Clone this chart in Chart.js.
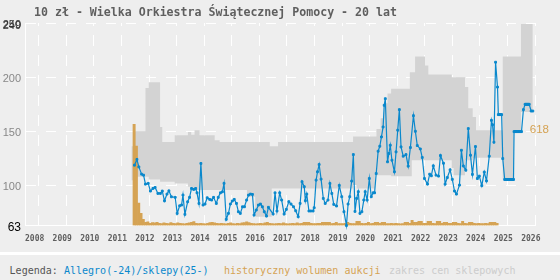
<!DOCTYPE html>
<html>
<head>
<meta charset="utf-8">
<script src="https://cdn.jsdelivr.net/npm/chart.js@4.4.1/dist/chart.umd.min.js"></script>
<style>
  body { margin: 0; background: #eeeeee; }
  #wrap { position: relative; width: 560px; height: 280px; overflow: hidden; }
  #chart { position: absolute; left: 0; top: 0; }
  #title { position: absolute; left: 34px; top: 5px; font: bold 11.6px 'DejaVu Sans Mono', monospace; line-height: 14px; color: #5f5f5f; white-space: pre; }
  #sep { position: absolute; left: 0; top: 252px; width: 560px; height: 3px; background: #fff; }
  #legend { position: absolute; left: 0; top: 265px; width: 560px; height: 12px; font: 10px 'DejaVu Sans Mono', monospace; line-height: 12px; white-space: pre; }
  #legend span { position: absolute; top: 0; }
</style>
</head>
<body>
<div id="wrap">
  <canvas id="chart" width="560" height="251"></canvas>
  <div id="title"></div>
  <div id="sep"></div>
  <div id="legend">
    <span style="left:9.6px;color:#555">Legenda:</span>
    <span id="lg-price" style="left:64px"></span>
    <span id="lg-volume" style="left:224px"></span>
    <span id="lg-band" style="left:389px"></span>
  </div>
</div>
<script>
const TITLE = '10 zł - Wielka Orkiestra Świątecznej Pomocy - 20 lat';
const PRICE_LABEL = 'Allegro(-24)/sklepy(25-)';
const VOLUME_LABEL = 'historyczny wolumen aukcji';
const BAND_LABEL = 'zakres cen sklepowych';

const BLUE = '#0a88cc';
const ORANGE = '#d5a354';
const GRAY = '#d3d3d3';

const YEAR_TICKS = [2008, 2009, 2010, 2011, 2012, 2013, 2014, 2015, 2016, 2017,
  2018, 2019, 2020, 2021, 2022, 2023, 2024, 2025, 2026];
const PRICE_TICKS = [63, 100, 150, 200, 249, 250];

// cena (rok dziesiętny, zł)
const PRICE_T = [
  2011.97, 2012.06, 2012.13, 2012.23, 2012.30, 2012.37, 2012.47, 2012.55, 2012.64, 2012.72, 2012.82, 2012.91, 2012.98,
  2013.06, 2013.15, 2013.22, 2013.31, 2013.45, 2013.52, 2013.61, 2013.68, 2013.73, 2013.80, 2013.90, 2013.97,
  2014.04, 2014.12, 2014.19, 2014.24, 2014.31, 2014.38, 2014.46, 2014.53, 2014.61, 2014.70, 2014.77, 2014.84, 2014.94,
  2015.01, 2015.09, 2015.16, 2015.22, 2015.30, 2015.38, 2015.45, 2015.52, 2015.59, 2015.67, 2015.74, 2015.81, 2015.89, 2015.96,
  2016.04, 2016.11, 2016.18, 2016.25, 2016.31, 2016.39, 2016.47, 2016.54, 2016.61, 2016.68, 2016.76, 2016.83,
  2017.00, 2017.07, 2017.14, 2017.24, 2017.31, 2017.40, 2017.48, 2017.57, 2017.65, 2017.74, 2017.82, 2017.91, 2017.98,
  2018.05, 2018.13, 2018.17, 2018.22, 2018.30, 2018.37, 2018.45, 2018.49, 2018.56, 2018.61, 2018.67, 2018.74, 2018.82, 2018.89, 2018.99,
  2019.06, 2019.13, 2019.20, 2019.30, 2019.40, 2019.49, 2019.57, 2019.66, 2019.72, 2019.78, 2019.85, 2019.91, 2019.97,
  2020.03, 2020.09, 2020.15, 2020.22, 2020.29, 2020.34, 2020.41, 2020.49, 2020.56, 2020.63, 2020.68, 2020.74, 2020.81, 2020.87, 2020.93, 2020.99,
  2021.03, 2021.07, 2021.15, 2021.20, 2021.25, 2021.31, 2021.40, 2021.46, 2021.52, 2021.58, 2021.64, 2021.72, 2021.82, 2021.90, 2021.98,
  2022.09, 2022.16, 2022.23, 2022.34, 2022.41, 2022.49, 2022.60, 2022.68, 2022.74, 2022.81, 2022.91,
  2023.00, 2023.07, 2023.18, 2023.24, 2023.32, 2023.42, 2023.50, 2023.58, 2023.65, 2023.76, 2023.83, 2023.90, 2023.99,
  2024.08, 2024.16, 2024.23, 2024.34, 2024.41, 2024.48, 2024.57, 2024.66, 2024.74, 2024.84, 2024.92, 2024.96,
  2025.01, 2025.07, 2025.14, 2025.17, 2025.20, 2025.23, 2025.26, 2025.29, 2025.33,
  2025.40, 2025.43, 2025.46, 2025.49, 2025.52, 2025.55, 2025.58, 2025.61, 2025.64, 2025.67, 2025.70, 2025.72,
  2025.74, 2025.77, 2025.80, 2025.83, 2025.86, 2025.89, 2025.92, 2025.95, 2025.98, 2026.01,
  2026.08, 2026.14, 2026.17, 2026.20, 2026.23, 2026.26, 2026.29, 2026.36, 2026.42
];
const PRICE_V = [
  118.7, 124.0, 117.1, 110.4, 109.5, 101.2, 101.9, 94.8, 97.2, 98.2, 92.6, 92.6, 94.8,
  85.8, 92.0, 95.0, 89.5, 89.0, 74.2, 81.2, 81.9, 91.1, 73.3, 84.9, 89.0,
  97.2, 96.3, 97.2, 93.2, 83.4, 120.3, 81.9, 82.8, 88.6, 87.1, 86.5, 89.0, 83.4,
  89.0, 93.2, 94.1, 101.9, 68.7, 74.2, 82.8, 85.6, 87.1, 83.4, 75.7, 74.2, 80.3, 80.3,
  86.5, 91.1, 92.0, 91.7, 72.7, 77.3, 81.9, 82.8, 80.3, 75.7, 71.7, 79.8,
  73.6, 93.2, 76.4, 93.2, 86.5, 73.6, 77.9, 85.0, 82.8, 80.3, 76.6, 71.1, 83.4,
  103.4, 98.8, 85.9, 92.0, 76.4, 76.4, 76.4, 79.4, 104.9, 112.6, 119.3, 105.8, 88.0, 83.4, 86.5,
  101.8, 92.6, 82.5, 81.0, 100.0, 89.6, 75.7, 63.0, 82.8, 89.6, 104.0, 128.5, 76.0,
  88.0, 94.2, 74.2, 75.7, 86.5, 94.2, 86.5, 106.4, 89.6, 93.2, 93.2, 111.0, 131.6, 136.2, 144.8, 154.0,
  174.0, 180.1, 121.8, 129.5, 137.1, 123.3, 112.6, 131.0, 151.0, 170.0, 135.6, 127.0, 128.5, 117.8, 135.0,
  164.4, 150.0, 136.8, 133.7, 125.8, 106.4, 101.2, 110.4, 108.9, 118.1, 109.5,
  108.6, 127.6, 120.5, 101.2, 107.3, 114.4, 105.6, 94.8, 92.0, 100.3, 132.5, 118.0, 114.1,
  152.5, 127.9, 110.2, 135.9, 106.4, 108.6, 99.8, 112.3, 104.2, 127.0, 160.1, 156.0,
  139.9, 213.8, 190.8, 165.4, 165.4, 165.4, 165.4, 165.4, 124.8,
  105.5, 105.5, 105.5, 105.5, 105.5, 105.5, 105.5, 105.5, 105.5, 105.5, 105.5, 105.5,
  149.7, 149.7, 149.7, 149.7, 149.7, 149.7, 149.7, 149.7, 149.7, 149.7,
  170.0, 174.9, 174.9, 174.9, 174.9, 174.9, 174.9, 168.7, 168.7
];

// zakres cen sklepowych: od roku BAND_T[i] do następnego
const BAND_T = [2011.86, 2011.97, 2012.37, 2012.49, 2012.90, 2012.98, 2013.43, 2013.91, 2014.03, 2014.15,
  2014.33, 2014.88, 2015.06, 2016.05, 2016.35, 2016.88, 2016.95, 2017.18, 2019.90, 2020.03,
  2020.69, 2020.75, 2020.90, 2021.02, 2021.15, 2021.28, 2021.96, 2022.03, 2022.15, 2022.51,
  2022.63, 2023.48, 2023.55, 2023.96, 2024.08, 2024.24, 2024.36, 2025.33, 2025.72, 2025.99, 2026.42];
const BAND_HI = [136.2, 150.0, 190.0, 195.4, 154.0, 140.2, 146.3, 149.4, 146.9, 150.9,
  146.3, 141.7, 140.2, 140.2, 140.2, 136.2, 136.2, 140.2, 145.3, 145.3,
  145.3, 152.0, 162.0, 176.0, 185.0, 189.3, 204.6, 204.6, 219.0, 210.8,
  202.5, 200.0, 200.0, 190.8, 171.2, 163.2, 150.9, 219.0, 219.0, 249.0, 249.0];
const BAND_LO = [104.9, 108.0, 108.0, 105.5, 103.3, 103.3, 101.9, 98.7, 95.7, 95.7,
  95.7, 95.7, 95.7, 89.5, 71.0, 71.0, 97.2, 97.2, 100.3, 97.2,
  109.5, 109.5, 109.5, 109.5, 109.5, 108.5, 108.5, 123.3, 123.3, 123.3,
  123.3, 116.0, 109.5, 123.3, 123.3, 125.0, 125.5, 105.5, 149.5, 167.8, 167.8];

// wolumen aukcji, miesięcznie od grudnia 2011
const VOLUME_FROM = [2011, 12];
const VOLUME = [
  618, 485, 137, 75, 38, 20, 22, 14, 18, 16, 20, 14, 12,
  16, 14, 12, 18, 14, 12, 16, 14, 12, 10, 14, 16,
  20, 24, 14, 12, 14, 12, 10, 14, 18, 20, 16, 14,
  12, 14, 12, 10, 14, 16, 12, 10, 14, 12, 16, 18,
  22, 18, 14, 12, 10, 12, 14, 12, 16, 20, 14, 12,
  10, 12, 14, 12, 16, 12, 10, 12, 14, 12, 16, 12,
  14, 20, 20, 20, 14, 12, 12, 14, 14, 20, 20, 20,
  20, 12, 14, 20, 12, 12, 12, 14, 20, 14, 12, 12,
  25, 25, 14, 12, 14, 20, 12, 14, 20, 20, 14, 20,
  20, 12, 12, 14, 12, 14, 12, 10, 12, 20, 20, 14,
  31, 20, 20, 25, 25, 14, 14, 25, 25, 14, 12, 25,
  25, 14, 20, 20, 14, 14, 20, 20, 14, 12, 25, 14,
  12, 20, 20, 14, 12, 14, 12, 12, 14, 12, 20, 20,
  20, 14
];

document.getElementById('title').textContent = TITLE;
const lgPrice = document.getElementById('lg-price');
lgPrice.textContent = PRICE_LABEL;
lgPrice.style.color = BLUE;
const lgVolume = document.getElementById('lg-volume');
lgVolume.textContent = VOLUME_LABEL;
lgVolume.style.color = ORANGE;
const lgBand = document.getElementById('lg-band');
lgBand.textContent = BAND_LABEL;
lgBand.style.color = '#cccccc';

const toPoints = (xs, ys) => xs.map((x, i) => ({ x: x, y: ys[i] }));
const monthToYear = (i) => {
  const m = VOLUME_FROM[1] - 1 + i;
  return VOLUME_FROM[0] + Math.floor(m / 12) + ((m % 12) + 0.5) / 12;
};
const volumeMax = Math.max(...VOLUME);

// liczba z maks. wolumenem przy prawej krawędzi
const volumeMaxLabel = {
  id: 'volumeMaxLabel',
  afterDatasetsDraw(chart) {
    const { ctx, scales } = chart;
    const x = scales.x.getPixelForValue(PRICE_T[PRICE_T.length - 1]) - 3;
    const y = scales.y2.getPixelForValue(volumeMax);
    ctx.save();
    ctx.font = '11.5px "Liberation Sans"';
    ctx.fillStyle = ORANGE;
    ctx.textBaseline = 'top';
    ctx.textAlign = 'left';
    ctx.fillText(String(volumeMax), x, y);
    ctx.restore();
  }
};

new Chart(document.getElementById('chart'), {
  type: 'line',
  data: {
    datasets: [
      {
        label: BAND_LABEL + ' min',
        data: toPoints(BAND_T, BAND_LO),
        stepped: true,
        borderWidth: 0,
        pointRadius: 0,
        fill: false,
        order: 3
      },
      {
        label: BAND_LABEL,
        data: toPoints(BAND_T, BAND_HI),
        stepped: true,
        borderWidth: 0,
        pointRadius: 0,
        backgroundColor: GRAY,
        fill: '-1',
        order: 2
      },
      {
        type: 'bar',
        label: VOLUME_LABEL,
        data: VOLUME.map((v, i) => ({ x: monthToYear(i), y: v })),
        yAxisID: 'y2',
        backgroundColor: ORANGE,
        borderWidth: 0,
        barPercentage: 1,
        categoryPercentage: 1,
        order: 1
      },
      {
        label: PRICE_LABEL,
        data: toPoints(PRICE_T, PRICE_V),
        borderColor: BLUE,
        borderWidth: 1.2,
        pointStyle: 'rect',
        pointRadius: 1.3,
        pointBorderWidth: 1,
        pointBackgroundColor: BLUE,
        pointBorderColor: BLUE,
        tension: 0,
        clip: false,
        order: 0
      }
    ]
  },
  options: {
    responsive: false,
    animation: false,
    events: [],
    layout: {
      padding: { left: 0, right: 25, top: 23, bottom: 0 }
    },
    scales: {
      x: {
        type: 'linear',
        min: 2008,
        max: 2026.5,
        offset: false,
        afterBuildTicks: (scale) => {
          scale.ticks = YEAR_TICKS.map(v => ({ value: v }));
        },
        afterFit: (scale) => {
          scale.height = 25.5;
        },
        grid: {
          color: '#ffffff',
          drawTicks: false
        },
        border: {
          color: '#ffffff',
          width: 1,
          dash: [11, 9],
          dashOffset: 8
        },
        ticks: {
          align: 'start',
          padding: 9,
          autoSkip: false,
          maxRotation: 0,
          color: '#5f5f5f',
          font: { family: 'DejaVu Sans Mono', size: 8, weight: 'bold' },
          callback: (v) => String(v)
        }
      },
      y: {
        min: 63,
        max: 250,
        afterBuildTicks: (scale) => {
          scale.ticks = PRICE_TICKS.map(v => ({ value: v }));
        },
        afterFit: (scale) => {
          scale.width = 25;
        },
        grid: {
          color: (c) => (c.tick && c.tick.value === 249) ? 'rgba(0,0,0,0)' : '#ffffff',
          drawTicks: false
        },
        border: {
          color: '#ffffff',
          width: 1,
          dash: [10, 10]
        },
        ticks: {
          padding: 4,
          labelOffset: 2,
          autoSkip: false,
          color: (c) => c.tick.value === 63 ? '#000' : (c.tick.value >= 249 ? '#333' : '#888'),
          font: (c) => ({ family: 'Liberation Sans', size: c.tick && c.tick.value === 63 ? 12 : 11 }),
          callback: (v) => String(v)
        }
      },
      y2: {
        display: false,
        min: 0,
        max: 2 * volumeMax
      }
    },
    plugins: {
      legend: { display: false },
      tooltip: { enabled: false }
    }
  },
  plugins: [volumeMaxLabel]
});
</script>
</body>
</html>
